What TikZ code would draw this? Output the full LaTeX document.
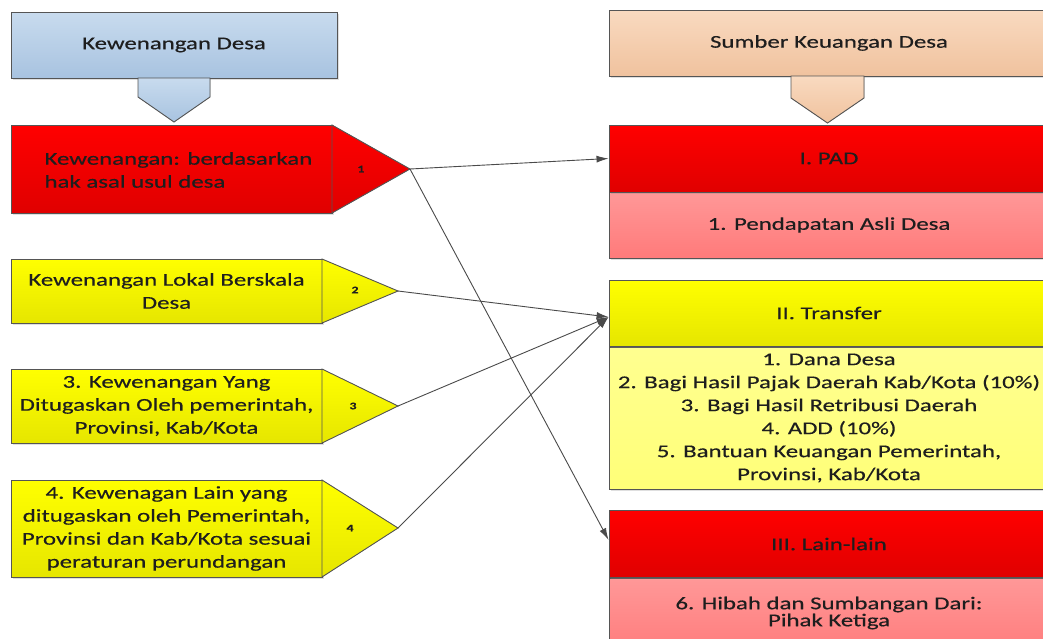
\documentclass[tikz,border=0pt]{standalone}
\usepackage{fontspec}
\setmainfont{Carlito}[FakeStretch=1.38,FakeBold=0.4]
\usetikzlibrary{arrows.meta,shadows}

\definecolor{edge}{HTML}{555555}
\definecolor{txt}{HTML}{1E1E1E}
\definecolor{wire}{HTML}{4A4A4A}
\definecolor{blueT}{HTML}{C8DBEE}
\definecolor{blueB}{HTML}{A8C3E0}
\definecolor{peachT}{HTML}{F9DAC0}
\definecolor{peachB}{HTML}{F0C29E}
\definecolor{redT}{HTML}{FF0000}
\definecolor{redB}{HTML}{E00000}
\definecolor{pinkT}{HTML}{FF9898}
\definecolor{pinkB}{HTML}{FF7A7A}
\definecolor{yelT}{HTML}{FFFF00}
\definecolor{yelB}{HTML}{E6E600}
\definecolor{lyelT}{HTML}{FFFF90}
\definecolor{lyelB}{HTML}{FFFF78}

\tikzset{
  box/.style={draw=edge, line width=0.9pt, inner sep=0pt, align=center,
    text=txt, font=\fontsize{18}{23}\selectfont,
    drop shadow={shadow xshift=1.5pt, shadow yshift=-1.5pt, opacity=0.25}},
  bluebox/.style={box, top color=blueT, bottom color=blueB},
  peachbox/.style={box, top color=peachT, bottom color=peachB},
  redbox/.style={box, top color=redT, bottom color=redB},
  pinkbox/.style={box, top color=pinkT, bottom color=pinkB},
  yelbox/.style={box, top color=yelT, bottom color=yelB},
  lyelbox/.style={box, top color=lyelT, bottom color=lyelB},
  tri/.style={draw=edge, line width=0.9pt, line join=miter},
  num/.style={text=txt, font=\fontsize{10}{12}\selectfont\bfseries},
  link/.style={draw=wire, line width=0.9pt, -{Latex[length=12pt,width=7pt]}}
}

\begin{document}
\begin{tikzpicture}[x=1pt,y=-1pt]
\useasboundingbox[fill=white] (0,0) rectangle (1043,638);

% ---- left column: authorities of the village
\node[bluebox, minimum width=326pt, minimum height=66pt] (kd) at (174,45) {Kewenangan Desa};
\filldraw[tri, top color=blueT, bottom color=blueB]
  (138,78) -- (210,78) -- (210,97) -- (174,122) -- (138,97) -- cycle;

\node[redbox, minimum width=321pt, minimum height=88pt] (k1) at (171.5,169) {};
\node[anchor=west, align=left, text=txt, font=\fontsize{18}{23}\selectfont] (k1t) at (41,170)
  {Kewenangan: berdasarkan\\hak asal usul desa};
\filldraw[tri, top color=redT, bottom color=redB] (332,125) -- (410,169) -- (332,213) -- cycle;
\coordinate (t1) at (410,169);
\node[num] (n1) at (361,169) {1};

\node[yelbox, minimum width=311pt, minimum height=64pt] (k2) at (166.5,291)
  {Kewenangan Lokal Berskala\\Desa};
\filldraw[tri, top color=yelT, bottom color=yelB] (322,259) -- (398,291) -- (322,323) -- cycle;
\coordinate (t2) at (398,291);
\node[num] (n2) at (355,290) {2};

\node[yelbox, minimum width=311pt, minimum height=74pt] (k3) at (166.5,406)
  {3. Kewenangan Yang\\Ditugaskan Oleh pemerintah,\\Provinsi, Kab/Kota};
\filldraw[tri, top color=yelT, bottom color=yelB] (322,369) -- (398,406) -- (322,443) -- cycle;
\coordinate (t3) at (398,406);
\node[num] (n3) at (353,406) {3};

\node[yelbox, minimum width=311pt, minimum height=97pt] (k4) at (166.5,528.5)
  {4. Kewenagan Lain yang\\ditugaskan oleh Pemerintah,\\Provinsi dan Kab/Kota sesuai\\peraturan perundangan};
\filldraw[tri, top color=yelT, bottom color=yelB] (322,480) -- (398,528) -- (322,577) -- cycle;
\coordinate (t4) at (398,528);
\node[num] (n4) at (350,528) {4};

% ---- right column: sources of village finance
\node[peachbox, minimum width=440pt, minimum height=66pt] (sk) at (829,43) {Sumber Keuangan Desa};
\filldraw[tri, top color=peachT, bottom color=peachB]
  (791,76) -- (864,76) -- (864,98) -- (827.5,123) -- (791,98) -- cycle;

\node[pinkbox, minimum width=440pt, minimum height=67pt] (pads) at (829,225) {1. Pendapatan Asli Desa};
\node[redbox, minimum width=440pt, minimum height=67pt] (pad) at (829,158.5) {I. PAD};

\node[lyelbox, minimum width=440pt, minimum height=142pt] (trs) at (829,418)
  {1. Dana Desa\\2. Bagi Hasil Pajak Daerah Kab/Kota (10\%)\\3. Bagi Hasil Retribusi Daerah\\4. ADD (10\%)\\5. Bantuan Keuangan Pemerintah,\\Provinsi, Kab/Kota};
\node[yelbox, minimum width=440pt, minimum height=66pt] (tr) at (829,313) {II. Transfer};

\node[pinkbox, minimum width=440pt, minimum height=80pt, text depth=0pt] (lls) at (829,618) {};
\node[text=txt, align=center, font=\fontsize{18}{17}\selectfont] (llst) at (829,613)
  {6. Hibah dan Sumbangan Dari:\\Pihak Ketiga};
\node[redbox, minimum width=440pt, minimum height=67pt] (ll) at (829,544) {III. Lain-lain};

% ---- connectors
\draw[link] (t1) -- (pad.west);
\draw[link] (t1) -- ([yshift=4pt]ll.west);
\draw[link] (t2) -- ([yshift=-4pt]tr.west);
\draw[link] (t3) -- ([yshift=-4pt]tr.west);
\draw[link] (t4) -- ([yshift=-4pt]tr.west);
\end{tikzpicture}
\end{document}
